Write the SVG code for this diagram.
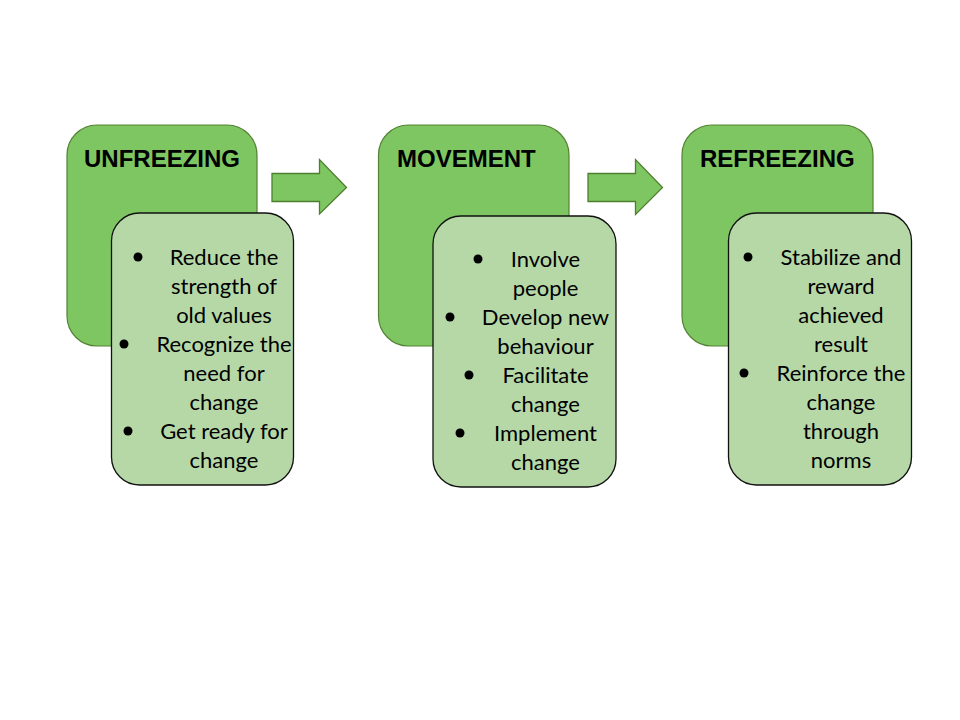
<svg xmlns="http://www.w3.org/2000/svg" width="960" height="720" viewBox="0 0 960 720">
<style>
.stage{fill:#7EC661;stroke:#548235;stroke-width:1.2}
.detail{fill:#B6D8A7;stroke:#111;stroke-width:1.3}
.arrow{fill:#7EC661;stroke:#4E7F30;stroke-width:1.3}
.title{font-family:"Liberation Sans",Arial,sans-serif;font-weight:bold;font-size:24px;fill:#000}
.body{font-family:Lato,"Open Sans",sans-serif;font-size:22px;fill:#000;text-anchor:middle}
.dot{fill:#000}
</style>
<rect width="960" height="720" fill="#fff"/>
<g id="connectors">
<polygon class="arrow" points="272,173.5 319.5,173.5 319.5,159.5 346.5,187.5 319.5,214 319.5,201.5 272,201.5"/>
<polygon class="arrow" points="588,173.5 635.5,173.5 635.5,159.5 662.5,187.5 635.5,214.5 635.5,201.5 588,201.5"/>
</g>
<g id="unfreezing">
<rect class="stage" x="67" y="125" width="190" height="221" rx="30"/>
<text class="title" x="84" y="166.5">UNFREEZING</text>
</g>
<g id="unfreezing-details">
<rect class="detail" x="111.5" y="213" width="182" height="272" rx="28"/>
<circle class="dot" cx="138" cy="257" r="4.5"/>
<circle class="dot" cx="124" cy="344" r="4.5"/>
<circle class="dot" cx="128" cy="431" r="4.5"/>
<text class="body"><tspan x="224" y="264.5">Reduce the</tspan><tspan x="224" y="293.5">strength of</tspan><tspan x="224" y="322.5">old values</tspan><tspan x="224" y="351.5">Recognize the</tspan><tspan x="224" y="380.5">need for</tspan><tspan x="224" y="409.5">change</tspan><tspan x="224" y="438.5">Get ready for</tspan><tspan x="224" y="467.5">change</tspan></text>
</g>
<g id="movement">
<rect class="stage" x="378.5" y="125" width="190.5" height="221" rx="30"/>
<text class="title" x="397" y="166.5">MOVEMENT</text>
</g>
<g id="movement-details">
<rect class="detail" x="433" y="216" width="183" height="271" rx="28"/>
<circle class="dot" cx="478" cy="259" r="4.5"/>
<circle class="dot" cx="450" cy="317" r="4.5"/>
<circle class="dot" cx="469" cy="375" r="4.5"/>
<circle class="dot" cx="460" cy="433" r="4.5"/>
<text class="body"><tspan x="545.5" y="266.5">Involve</tspan><tspan x="545.5" y="295.5">people</tspan><tspan x="545.5" y="324.5">Develop new</tspan><tspan x="545.5" y="353.5">behaviour</tspan><tspan x="545.5" y="382.5">Facilitate</tspan><tspan x="545.5" y="411.5">change</tspan><tspan x="545.5" y="440.5">Implement</tspan><tspan x="545.5" y="469.5">change</tspan></text>
</g>
<g id="refreezing">
<rect class="stage" x="682" y="125" width="191" height="221" rx="30"/>
<text class="title" x="700" y="166.5">REFREEZING</text>
</g>
<g id="refreezing-details">
<rect class="detail" x="728.5" y="213" width="183" height="272" rx="28"/>
<circle class="dot" cx="748" cy="257" r="4.5"/>
<circle class="dot" cx="744" cy="373" r="4.5"/>
<text class="body"><tspan x="841" y="264.5">Stabilize and</tspan><tspan x="841" y="293.5">reward</tspan><tspan x="841" y="322.5">achieved</tspan><tspan x="841" y="351.5">result</tspan><tspan x="841" y="380.5">Reinforce the</tspan><tspan x="841" y="409.5">change</tspan><tspan x="841" y="438.5">through</tspan><tspan x="841" y="467.5">norms</tspan></text>
</g>
</svg>
